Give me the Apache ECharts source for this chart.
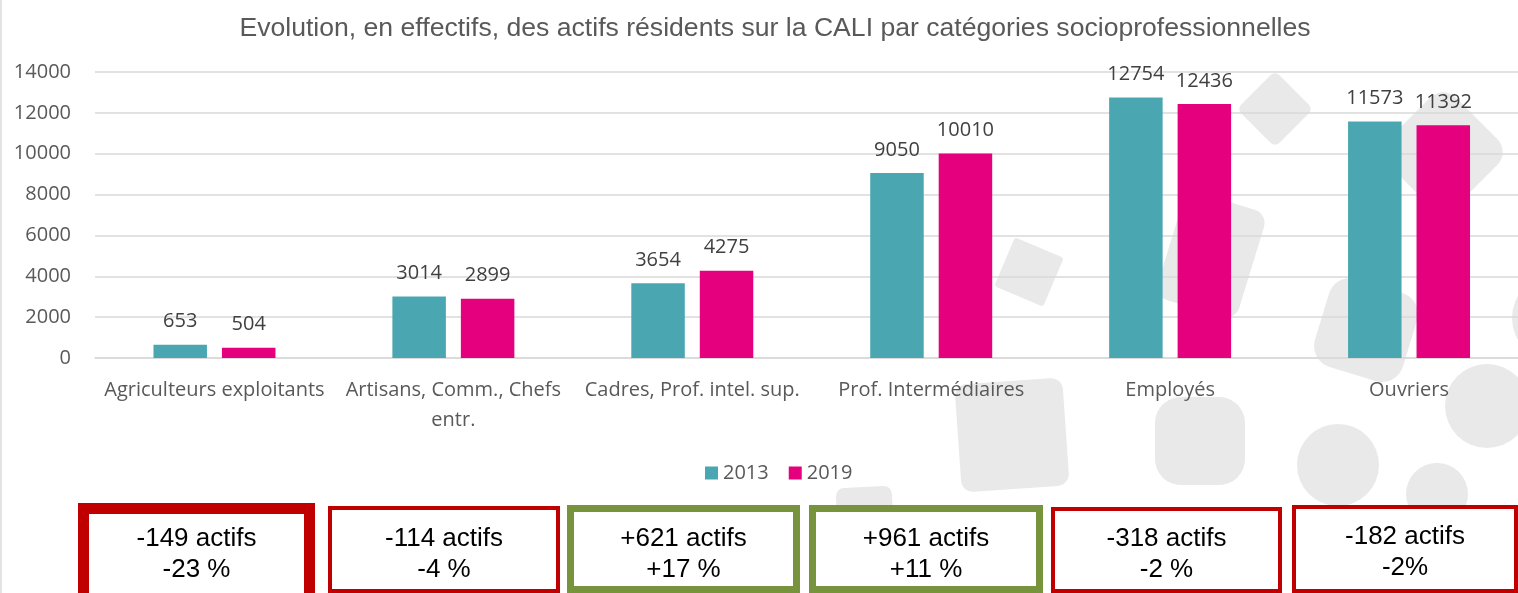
<!DOCTYPE html>
<html>
<head>
<meta charset="utf-8">
<title>Actifs résidents CALI</title>
<script src="https://cdn.jsdelivr.net/npm/echarts@6/dist/echarts.min.js"></script>
<style>
  html, body { margin: 0; padding: 0; background: #ffffff; overflow: hidden; }
  #chart { width: 1529px; height: 593px; }
</style>
</head>
<body>
<div id="chart"></div>
<script>
let categories = ['Agriculteurs exploitants', 'Artisans, Comm., Chefs\nentr.', 'Cadres, Prof. intel. sup.', 'Prof. Intermédiaires', 'Employés', 'Ouvriers'];
let values2013 = [653, 3014, 3654, 9050, 12754, 11573];
let values2019 = [504, 2899, 4275, 10010, 12436, 11392];
let seriesNames = ['2013', '2019'];
let yTicks = [0, 2000, 4000, 6000, 8000, 10000, 12000, 14000];
let diffActifs = ['-149 actifs', '-114 actifs', '+621 actifs', '+961 actifs', '-318 actifs', '-182 actifs'];
let diffPercent = ['-23 %', '-4 %', '+17 %', '+11 %', '-2 %', '-2%'];

let textColor = '#595959';
let labelFont = 'Open Sans';

// decorative grey shapes in the background
function backgroundShapes() {
  let grey = '#E8E9E8';
  let deg = Math.PI / 180;
  let rects = [
    { x: 1275, y: 109, w: 54, h: 54, r: 6, rot: 45 },
    { x: 1443, y: 152, w: 95, h: 95, r: 18, rot: 45 },
    { x: 1029, y: 272, w: 53, h: 53, r: 3, rot: -23 },
    { x: 1211, y: 255, w: 85, h: 112, r: 14, rot: -17 },
    { x: 1366, y: 330, w: 92, h: 92, r: 22, rot: -17 },
    { x: 1012, y: 435, w: 108, h: 108, r: 12, rot: 4 },
    { x: 1200, y: 441, w: 90, h: 88, r: 26, rot: 0 },
    { x: 866, y: 535, w: 56, h: 96, r: 8, rot: 3 }
  ];
  let circles = [
    { x: 1338, y: 465, r: 41 },
    { x: 1437, y: 494, r: 31 },
    { x: 1487, y: 406, r: 42 },
    { x: 1556, y: 318, r: 44 }
  ];
  let out = [];
  rects.forEach(s => {
    out.push({
      type: 'rect', z: -10, silent: true,
      x: s.x, y: s.y, rotation: s.rot * deg,
      shape: { x: -s.w / 2, y: -s.h / 2, width: s.w, height: s.h, r: s.r },
      style: { fill: grey }
    });
  });
  circles.forEach(c => {
    out.push({
      type: 'circle', z: -10, silent: true,
      shape: { cx: c.x, cy: c.y, r: c.r },
      style: { fill: grey }
    });
  });
  return out;
}

// boxes with the evolution under each category
function diffBoxes() {
  let red = '#C00000';
  let green = '#77933C';
  let boxes = [
    { l: 78, r: 315, t: 503, b: 606, lw: 11, c: red },
    { l: 328, r: 560, t: 506, b: 593, lw: 4, c: red },
    { l: 567, r: 800, t: 505, b: 593, lw: 7, c: green },
    { l: 809, r: 1043, t: 505, b: 593, lw: 7, c: green },
    { l: 1051, r: 1282, t: 507, b: 593, lw: 4, c: red },
    { l: 1292, r: 1518, t: 505, b: 593, lw: 4, c: red }
  ];
  let out = [];
  boxes.forEach((b, i) => {
    out.push({
      type: 'rect', z: 5, silent: true,
      shape: { x: b.l + b.lw / 2, y: b.t + b.lw / 2, width: b.r - b.l - b.lw, height: b.b - b.t - b.lw },
      style: { fill: '#ffffff', stroke: b.c, lineWidth: b.lw }
    });
    out.push({
      type: 'text', z: 6, silent: true,
      x: (b.l + b.r) / 2, y: i === 5 ? 552 : 554,
      style: {
        text: diffActifs[i] + '\n' + diffPercent[i],
        fill: '#000000',
        font: '26px "Liberation Sans", Arial, sans-serif',
        lineHeight: 31,
        align: 'center',
        verticalAlign: 'middle'
      }
    });
  });
  return out;
}

let chart = echarts.init(document.getElementById('chart'));

let option = {
  backgroundColor: '#ffffff',
  animation: false,
  color: ['#4AA7B2', '#E5007E'],
  title: {
    text: 'Evolution, en effectifs, des actifs résidents sur la CALI par catégories socioprofessionnelles',
    left: 770,
    top: 10,
    textAlign: 'center',
    textStyle: {
      fontFamily: '"Liberation Sans", Arial, sans-serif',
      fontSize: 26.6,
      fontWeight: 'normal',
      color: textColor
    }
  },
  legend: {
    data: seriesNames,
    left: 705,
    top: 463,
    padding: 0,
    itemWidth: 13,
    itemHeight: 13,
    itemGap: 20,
    icon: 'rect',
    textStyle: { fontFamily: labelFont, fontSize: 20, color: textColor, padding: [0, 0, 0, 0] }
  },
  grid: {
    left: 95,
    top: 72,
    width: 1433.5,
    height: 286
  },
  xAxis: {
    type: 'category',
    data: categories,
    axisTick: { show: false },
    axisLine: { lineStyle: { color: '#D9D9D9', width: 1.5 } },
    axisLabel: {
      interval: 0,
      margin: 17,
      lineHeight: 30,
      fontFamily: labelFont,
      fontSize: 20,
      color: textColor
    }
  },
  yAxis: {
    type: 'value',
    min: yTicks[0],
    max: yTicks[yTicks.length - 1],
    interval: 2000,
    axisLine: { show: false },
    axisTick: { show: false },
    splitLine: { lineStyle: { color: '#D9D9D9', width: 1.5 } },
    axisLabel: {
      margin: 24,
      fontFamily: labelFont,
      fontSize: 20,
      color: textColor,
      formatter: v => String(v)
    }
  },
  series: [
    {
      name: seriesNames[0],
      type: 'bar',
      data: values2013,
      barWidth: 53.5,
      barGap: '28%',
      label: {
        show: true,
        position: 'top',
        distance: 13,
        fontFamily: labelFont,
        fontSize: 20,
        color: '#404040'
      }
    },
    {
      name: seriesNames[1],
      type: 'bar',
      data: values2019,
      barWidth: 53.5,
      barGap: '28%',
      label: {
        show: true,
        position: 'top',
        distance: 13,
        fontFamily: labelFont,
        fontSize: 20,
        color: '#404040'
      }
    }
  ],
  graphic: [
    { type: 'line', z: -10, silent: true, shape: { x1: 1, y1: 0, x2: 1, y2: 593 }, style: { stroke: '#E3E3E3', lineWidth: 2 } }
  ].concat(backgroundShapes(), diffBoxes())
};

chart.setOption(option);
</script>
</body>
</html>
